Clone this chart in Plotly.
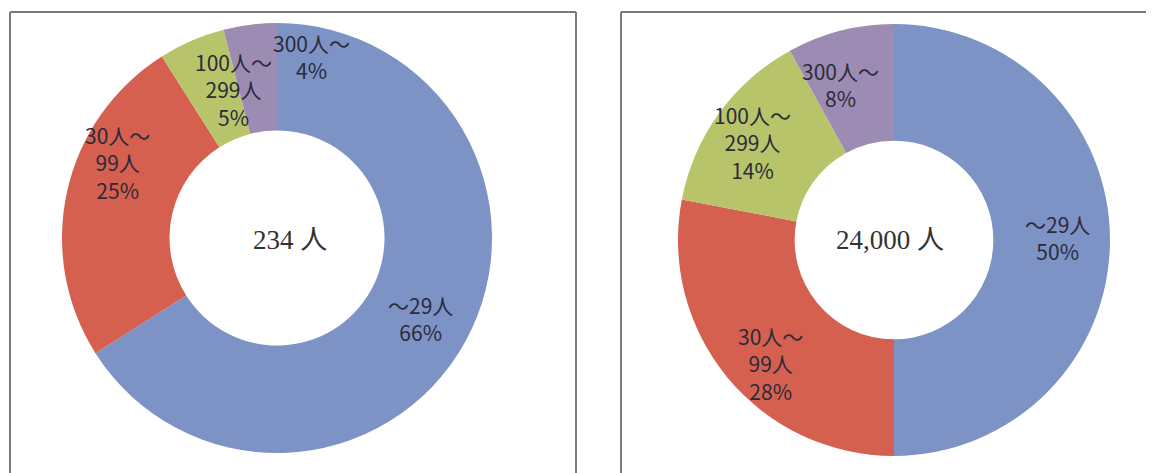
import plotly.graph_objects as go

W, H = 1154, 473
OFF = 8  # browser default body margin

categories = ["～29人", "30人～99人", "100人～299人", "300人～"]
label_lines = ["～29人", "30人～<br>99人", "100人～<br>299人", "300人～"]
left_values = [66, 25, 5, 4]
right_values = [50, 28, 14, 8]
left_total = "234 人"
right_total = "24,000 人"
colors = ["#7d93c6", "#d5604f", "#b8c46a", "#9c8bb2"]

# label anchor positions in pixels (layout only)
left_label_pos = [(420, 318), (117, 162), (233, 90), (311, 56)]
right_label_pos = [(1057, 238), (770, 363), (752, 142), (840, 84)]

def px(x, y):
    return (x - OFF) / W, 1 - (y - OFF) / H

fig = go.Figure()

def add_donut(values, cx, cy, r, hole):
    x0, y1 = px(cx - r, cy - r)
    x1, y0 = px(cx + r, cy + r)
    fig.add_trace(go.Pie(
        labels=categories, values=values, sort=False, direction="clockwise",
        rotation=0, hole=hole, textinfo="none", hoverinfo="label+percent",
        marker=dict(colors=colors, line=dict(width=0)),
        domain=dict(x=[x0, x1], y=[y0, y1]), showlegend=False,
    ))

add_donut(left_values, 277, 238, 215, 0.50)
add_donut(right_values, 894, 240, 216, 0.46)

annotations = []
def add_labels(values, positions):
    total = sum(values)
    for lab, v, (x, y) in zip(label_lines, values, positions):
        ax, ay = px(x, y)
        annotations.append(dict(
            x=ax, y=ay, xref="paper", yref="paper", showarrow=False,
            text=f"{lab}<br>{round(100 * v / total)}%",
            font=dict(family="Noto Sans CJK JP", size=21, color="#2b2b3a"),
            align="center", xanchor="center", yanchor="middle",
        ))

add_labels(left_values, left_label_pos)
add_labels(right_values, right_label_pos)

for text, (x, y) in [(left_total, (290, 240)), (right_total, (890, 240))]:
    ax, ay = px(x, y)
    annotations.append(dict(
        x=ax, y=ay, xref="paper", yref="paper", showarrow=False, text=text,
        font=dict(family="Liberation Serif, Noto Sans CJK JP", size=27, color="#333333"),
        xanchor="center", yanchor="middle",
    ))

shapes = []
for (lx, rx) in [(10, 576), (621, 1152)]:
    for (xa, ya, xb, yb) in [(lx, 12, rx, 12), (lx, 12, lx, 490), (rx, 12, rx, 490)]:
        a = px(xa, ya); b = px(xb, yb)
        shapes.append(dict(type="line", xref="paper", yref="paper",
                           x0=a[0], y0=a[1], x1=b[0], y1=b[1],
                           line=dict(color="#7a7a85", width=2)))

fig.update_layout(
    width=W, height=H, margin=dict(l=0, r=0, t=0, b=0),
    paper_bgcolor="white", plot_bgcolor="white",
    annotations=annotations, shapes=shapes,
)

fig.write_html("out.html")
